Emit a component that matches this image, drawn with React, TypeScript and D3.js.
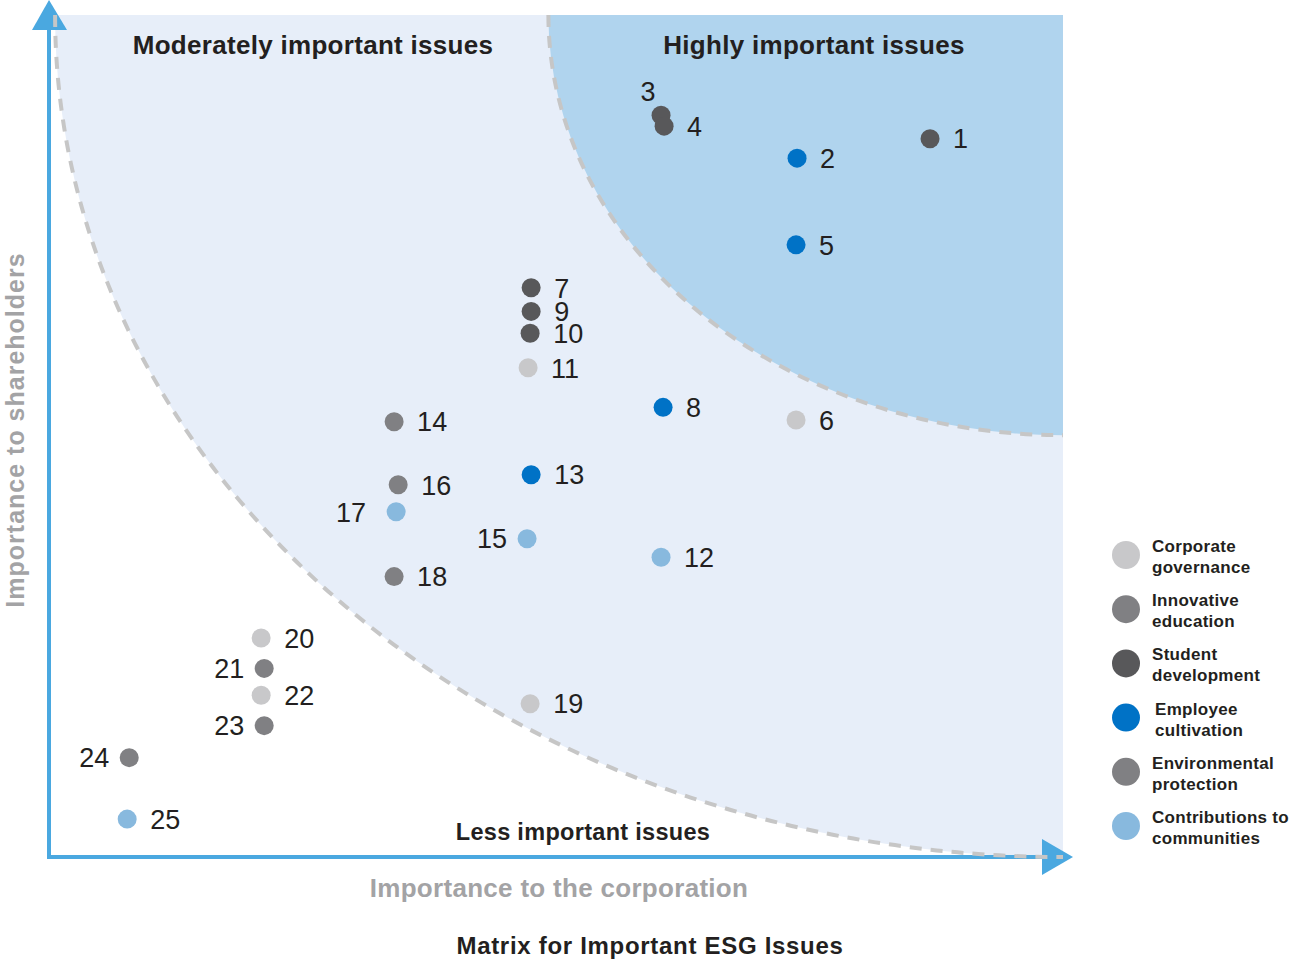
import * as d3 from "d3";

const W = 1306;
const H = 965;
const PLOT = { left: 48, right: 1063, top: 15, bottom: 857 };
const FONT = "'Liberation Sans', Arial, Helvetica, sans-serif";

// issue categories, legend order
const categories = [
  "Corporate governance",
  "Innovative education",
  "Student development",
  "Employee cultivation",
  "Environmental protection",
  "Contributions to communities",
];
const categoryColors = ["#c8c8ca", "#808083", "#58585a", "#0072c6", "#808083", "#88b9de"];

// issue id, importance to corporation (x, 0-100), importance to shareholders (y, 0-100), category index
const issueIds = [1, 2, 3, 4, 5, 6, 7, 8, 9, 10, 11, 12, 13, 14, 15, 16, 17, 18, 19, 20, 21, 22, 23, 24, 25];
const corpScores = [86.9, 73.8, 60.4, 60.7, 73.7, 73.7, 47.6, 60.6, 47.6, 47.5, 47.3, 60.4, 47.6, 34.1, 47.2, 34.5, 34.3, 34.1, 47.5, 21.0, 21.3, 21.0, 21.3, 8.0, 7.8];
const holderScores = [85.3, 83.0, 88.1, 86.8, 72.7, 51.9, 67.6, 53.4, 64.8, 62.2, 58.1, 35.6, 45.4, 51.7, 37.8, 44.2, 41.0, 33.3, 18.2, 26.0, 22.4, 19.2, 15.6, 11.8, 4.5];
const issueCats = [2, 3, 2, 2, 3, 0, 2, 3, 2, 2, 0, 5, 3, 1, 5, 1, 5, 1, 0, 0, 4, 0, 4, 4, 5];

// which side the number sits on (default right)
const labelSide: Record<number, "l" | "t"> = { 3: "t", 15: "l", 17: "l", 21: "l", 23: "l", 24: "l" };

// zone boundaries: quarter ellipses from the top-right corner, radii in score units
const zoneNames = ["Moderately important issues", "Highly important issues"];
const zoneRx = [99.3, 50.7];
const zoneRy = [100, 49.9];
const zoneFills = ["#e7eef9", "#b0d4ee"];

export default function App() {
  const x = d3.scaleLinear().domain([0, 100]).range([PLOT.left, PLOT.right]);
  const y = d3.scaleLinear().domain([0, 100]).range([PLOT.bottom, PLOT.top]);

  const radii = (i: number) => {
    const cx = x(100);
    const cy = y(100);
    return { cx, cy, rx: cx - x(100 - zoneRx[i]), ry: y(100 - zoneRy[i]) - cy };
  };
  const zonePath = (i: number) => {
    const { cx, cy, rx, ry } = radii(i);
    return `M${cx},${cy}L${cx - rx},${cy}A${rx},${ry} 0 0 0 ${cx},${cy + ry}Z`;
  };
  const zoneArc = (i: number) => {
    const { cx, cy, rx, ry } = radii(i);
    return `M${cx - rx},${cy}A${rx},${ry} 0 0 0 ${cx},${cy + ry}`;
  };

  const axisColor = "#4aa8e0";
  const ox = x(0) + 1;
  const oy = y(0);

  return (
    <svg
      width={W}
      height={H}
      viewBox={`0 0 ${W} ${H}`}
      style={{ position: "absolute", left: 0, top: 0, background: "#fff" }}
      fontFamily={FONT}
    >
      {zoneNames.map((_, i) => (
        <path key={`z${i}`} d={zonePath(i)} fill={zoneFills[i]} />
      ))}

      {/* axes */}
      <line x1={ox} y1={oy} x2={ox} y2={26} stroke={axisColor} strokeWidth={4} />
      <path d={`M${ox},0L${ox - 17},30L${ox + 18},30Z`} fill={axisColor} />
      <line x1={ox - 2} y1={oy} x2={1044} y2={oy} stroke={axisColor} strokeWidth={4} />
      <path d={`M1073,${oy}L1042,${oy - 18}L1042,${oy + 18}Z`} fill={axisColor} />

      {zoneNames.map((_, i) => (
        <path
          key={`a${i}`}
          d={zoneArc(i)}
          fill="none"
          stroke="#c6c6c6"
          strokeWidth={4}
          strokeDasharray="12 9"
        />
      ))}

      {/* zone titles */}
      <g fontWeight="bold" fontSize={26} letterSpacing={0.3} fill="#231f20" textAnchor="middle">
        <text x={313} y={54}>{zoneNames[0]}</text>
        <text x={814} y={54}>{zoneNames[1]}</text>
        <text x={583} y={840} fontSize={23.5}>Less important issues</text>
      </g>

      {/* points */}
      {issueIds.map((id, i) => {
        const px = x(corpScores[i]);
        const py = y(holderScores[i]);
        const side = labelSide[id];
        let tx = px + 23;
        let ty = py;
        let anchor: "start" | "end" | "middle" = "start";
        if (side === "l") {
          tx = px - (id === 17 ? 30 : 20);
          anchor = "end";
        } else if (side === "t") {
          tx = px - 13;
          ty = py - 24;
          anchor = "middle";
        }
        return (
          <g key={id}>
            <circle cx={px} cy={py} r={9.5} fill={categoryColors[issueCats[i]]} />
            <text x={tx} y={ty} dy="0.36em" textAnchor={anchor} fontSize={27} fill="#231f20">
              {id}
            </text>
          </g>
        );
      })}

      {/* axis titles */}
      <text
        x={559}
        y={897}
        textAnchor="middle"
        fontSize={26}
        letterSpacing={0.3}
        fontWeight="bold"
        fill="#a3a3a5"
      >
        Importance to the corporation
      </text>
      <text
        transform="translate(24,430) rotate(-90)"
        textAnchor="middle"
        fontSize={25}
        letterSpacing={1}
        fontWeight="bold"
        fill="#a3a3a5"
      >
        Importance to shareholders
      </text>
      <text
        x={650}
        y={954}
        textAnchor="middle"
        fontSize={24}
        letterSpacing={0.7}
        fontWeight="bold"
        fill="#231f20"
      >
        Matrix for Important ESG Issues
      </text>

      {/* legend */}
      {categories.map((c, i) => {
        const cy = 555 + i * 54.2;
        const words = c.split(" ");
        const first = c === "Contributions to communities" ? "Contributions to" : words[0];
        const second = c === "Contributions to communities" ? "communities" : words.slice(1).join(" ");
        const tx = c === "Employee cultivation" ? 1155 : 1152;
        return (
          <g key={c} fontSize={17} letterSpacing={0.3} fontWeight="bold" fill="#231f20">
            <circle cx={1126} cy={cy} r={14} fill={categoryColors[i]} />
            <text x={tx} y={cy - 3}>{first}</text>
            <text x={tx} y={cy + 18}>{second}</text>
          </g>
        );
      })}
    </svg>
  );
}
